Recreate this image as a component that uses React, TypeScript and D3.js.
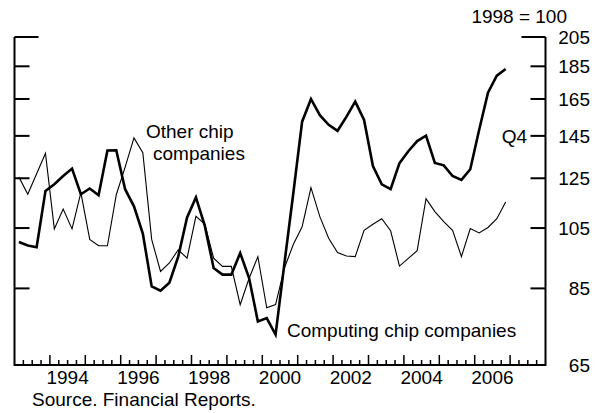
import React from 'react';
import * as d3 from 'd3';

// quarterly index, 1998 = 100, 1993Q1 .. 2006Q4
const startYear = 1993;
const computingChip = [
  100, 98.8, 98.2, 119.6, 122.4, 126, 129.3, 118.2,
  120.6, 117.8, 137.8, 137.9, 120.3, 113.3, 103, 85.6,
  84.3, 86.7, 95, 109, 116.9, 105.9, 91.3, 89.2,
  89.2, 96.2, 88.2, 75.7, 76.6, 72.3, 92.8, 118.5,
  152.4, 165, 155.9, 150.7, 147.6, 155, 163.5, 153.3,
  130.5, 122.4, 120.3, 131.8, 137.4, 142.4, 145.1, 131.9,
  130.8, 126, 124.3, 129, 148, 168.7, 179, 183.3,
];
const otherChip = [
  125.5, 118.2, 127, 136.4, 104.7, 112.2, 104.7, 118.9,
  100.9, 98.7, 98.7, 118, 130, 144, 136.7, 100.9,
  90.2, 92.9, 97.3, 94.5, 109.4, 106.5, 94.5, 91.8,
  91.8, 80.3, 88, 95, 79.4, 80.3, 91.3, 99.1,
  105.5, 121, 109.3, 101.3, 96.4, 95.2, 95, 104.2,
  106.4, 108.5, 104, 91.9, 94.4, 97, 116.4, 111.2,
  107.4, 104.2, 95, 104.8, 103.2, 105.2, 108.5, 115,
];
const yTicks = [65, 85, 105, 125, 145, 165, 185, 205];
const yearLabels = [1994, 1996, 1998, 2000, 2002, 2004, 2006];

const W = 604;
const H = 413;
const font = "'Liberation Sans', Arial, sans-serif";

export default function App() {
  const x = d3.scaleLinear().domain([1993, 2008]).range([14.5, 545.5]);
  const y = d3.scaleLog().domain([65, 205]).range([365, 37]);

  const t = (i: number) => startYear + (i + 0.5) / 4;
  const line = d3
    .line<number>()
    .x((_, i) => x(t(i)))
    .y((d) => y(d));

  const [left, right] = x.range();
  const base = y(65);
  // quarter ticks, taller at the start of each year
  const quarterTicks = d3.range(1, 60).map((k) => ({ q: 1993 + k / 4, major: k % 4 === 0 }));

  return (
    <svg width={W} height={H} style={{ position: 'absolute', left: 0, top: 0, background: '#fff' }}>
      <path d={`M${left},${y(205)}V${base}H${right}V${y(205)}`} fill="none" stroke="#000" strokeWidth={2} />
      {yTicks.slice(1).map((v) => {
        const len = v === 205 ? 24 : 15;
        return (
          <g key={v} fill="#000">
            <rect x={left} y={y(v) - 1} width={len} height={2} />
            <rect x={right - len} y={y(v) - 1} width={len} height={2} />
          </g>
        );
      })}
      {quarterTicks.map(({ q, major }) => (
        <rect key={q} x={x(q) - 0.75} y={base - (major ? 10 : 5)} width={1.5} height={major ? 10 : 5} fill="#000" />
      ))}
      <path d={line(otherChip) || ''} fill="none" stroke="#000" strokeWidth={1.1} strokeLinejoin="miter" />
      <path d={line(computingChip) || ''} fill="none" stroke="#000" strokeWidth={2.6} strokeLinejoin="miter" />
      <g fontFamily={font} fontSize={19} fill="#000">
        {yTicks.map((v) => (
          <text key={v} x={590} y={y(v)} dy="0.36em" textAnchor="end">{v}</text>
        ))}
        <text x={567} y={23} textAnchor="end">1998 = 100</text>
        <text x={527} y={y(145)} dy="0.36em" textAnchor="end">Q4</text>
        {yearLabels.map((yr) => (
          <text key={yr} x={x(yr + 0.5)} y={384} textAnchor="middle">{yr}</text>
        ))}
        <text x={32} y={406}>Source. Financial Reports.</text>
        <text x={146} y={138}>Other chip</text>
        <text x={153} y={160}>companies</text>
        <text x={287} y={337}>Computing chip companies</text>
      </g>
    </svg>
  );
}
